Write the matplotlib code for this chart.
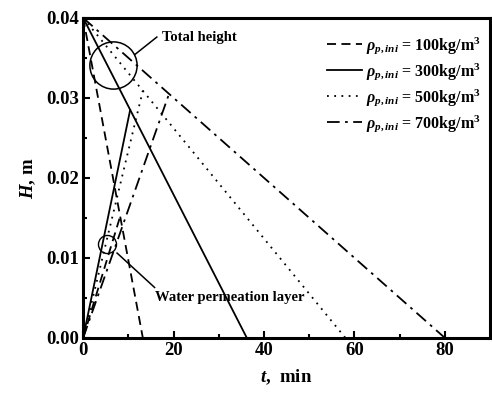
import numpy as np
import matplotlib
matplotlib.use('Agg')
import matplotlib.pyplot as plt

plt.rcParams['font.family'] = 'Liberation Serif'
plt.rcParams['font.weight'] = 'bold'
plt.rcParams['axes.labelweight'] = 'bold'
plt.rcParams['mathtext.fontset'] = 'custom'
plt.rcParams['mathtext.rm'] = 'Liberation Serif:bold'
plt.rcParams['mathtext.it'] = 'Liberation Serif:bold:italic'
plt.rcParams['mathtext.bf'] = 'Liberation Serif:bold'

# initial bed height (m)
H0 = 0.04
# initial densities and read-off points
densities = [100, 300, 500, 700]
t_end = [13.2, 36.2, 58.0, 80.0]        # total height reaches 0
t_meet = [8.2, 10.4, 13.2, 19.0]        # water layer meets total height
H_meet = [0.0152, 0.0285, 0.0309, 0.0305]
styles = [(0, (5, 3)), '-', (0, (1, 3)), (0, (7, 3, 1.5, 3))]

fig = plt.figure(figsize=(4.92, 3.97), dpi=100)
ax = fig.add_axes([0.169, 0.149, 0.827, 0.806])

for i in range(len(densities)):
    # total height
    ax.plot([0, t_end[i]], [H0, 0], ls=styles[i], color='k', lw=1.3,
            label=r'$\rho_{p,ini}$ = %dkg/m$^3$' % densities[i])
    # water permeation layer
    ax.plot([0, t_meet[i]], [0, H_meet[i]], ls=styles[i], color='k', lw=1.3)

# circles marking the two groups of lines
ax.plot([6.6], [0.0341], 'o', ms=34, mfc='none', mec='k', mew=1.1)
ax.plot([5.3], [0.0117], 'o', ms=13, mfc='none', mec='k', mew=1.0)

ax.plot([11.4, 16.3], [0.0354, 0.0376], color='k', lw=1.1)
ax.text(17.4, 0.0376, 'Total height', fontsize=10.5, fontweight='bold',
        ha='left', va='center')
ax.plot([7.5, 15.8], [0.0106, 0.0063], color='k', lw=1.1)
ax.text(15.9, 0.0051, 'Water permeation layer', fontsize=10.5,
        fontweight='bold', ha='left', va='center')

ax.set_xlim(0, 90)
ax.set_ylim(0, 0.04)
ax.set_xticks([0, 20, 40, 60, 80])
ax.set_xticks([10, 30, 50, 70], minor=True)
ax.set_yticks([0, 0.01, 0.02, 0.03, 0.04])
ax.set_yticks([0.005, 0.015, 0.025, 0.035], minor=True)
ax.set_yticklabels(['0.00', '0.01', '0.02', '0.03', '0.04'])
ax.tick_params(which='both', direction='in', top=False, right=False,
               labelsize=13.5, width=1.5, pad=3)
ax.tick_params(which='major', length=5)
ax.tick_params(which='minor', length=3)
for sp in ax.spines.values():
    sp.set_linewidth(2.2)

ax.set_xlabel(r'$t$,  min', fontsize=13.5, labelpad=6)
ax.set_ylabel(r'$H$, m', fontsize=13.5, labelpad=6)

leg = ax.legend(loc='upper right', bbox_to_anchor=(1.0, 0.975), frameon=False,
                fontsize=11.5, handlelength=2.2, handletextpad=0.2,
                labelspacing=0.32, borderaxespad=0.2)

fig.savefig('out.png', dpi=100)
